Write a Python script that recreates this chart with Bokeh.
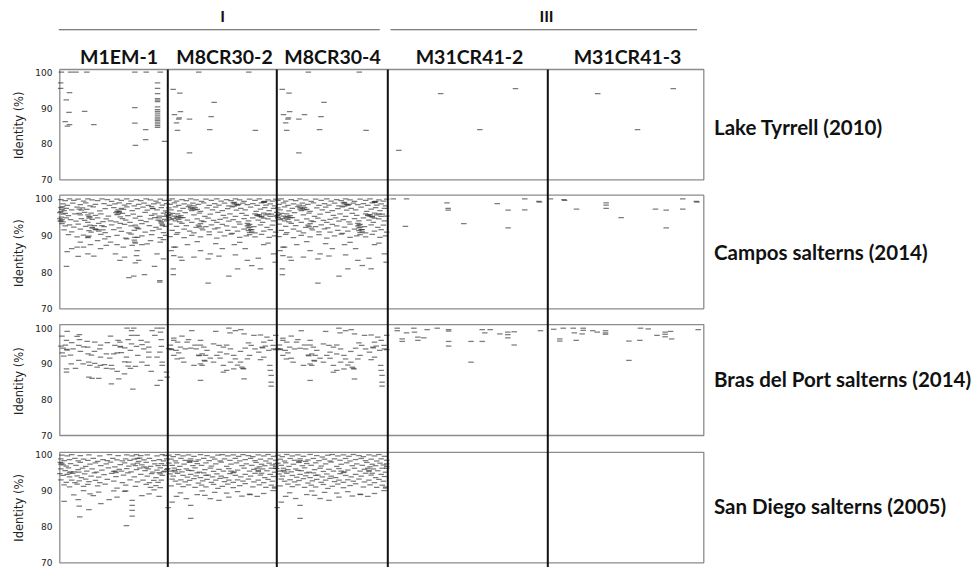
import math
from bokeh.plotting import figure
from bokeh.models import Range1d
from bokeh.embed import file_html
from bokeh.resources import INLINE
from bokeh.core.properties import value

# ---------------- data ----------------
genomes = ["M1EM-1", "M8CR30-2", "M8CR30-4", "M31CR41-2", "M31CR41-3"]
groups = ["I", "III"]
group_members = [[0, 1, 2], [3, 4]]
metagenomes = ["Lake Tyrrell (2010)", "Campos salterns (2014)",
               "Bras del Port salterns (2014)", "San Diego salterns (2005)"]
identity_ticks = [70, 80, 90, 100]
identity_tick_labels = ["70", "80", "90", "100"]
y_label = "Identity (%)"

# each point: (position along genome, % of genome length ; identity %)
lake_M1EM1 = [(1.5,100),(10,100),(15,100),(25,100),(69.5,100),(80,100),(93,100),
    (0.8,97.0),(0.8,95.5),(9,94.3),(6,92.3),(8.5,88.8),(5,86.2),(7,85.0),(9,85.4),(23,89.1),
    (31.5,85.4),(69.5,90.1),(69.5,85.8),(79.5,84.0),(79.5,81.2),(70,79.6),(97,80.7),
    (90.5,97.0),(90.5,95.5),(90.5,94.0),(90.5,92.6),(90.5,92.2),(90.5,91.8),(90.5,90.3),
    (90.5,89.6),(90.5,89.1),(90.5,88.6),(90.5,88.0),(90.5,87.5),(90.5,87.0),(90.5,86.6),
    (90.5,86.1),(90.5,85.6),(90.5,85.1),(90.5,84.6)]
lake_M8CR30 = [(28.4,100),(74.3,100),(4.9,95.2),(11,94.2),(6.1,88.2),(11.6,89.0),(10,86.9),
    (8,85.9),(8.9,83.8),(19.9,86.9),(42.5,91.6),(39.8,87.6),(38.5,84.0),(19.9,77.5),(80.4,83.8),
    (10.5,87.3)]
lake_M8CR30_4_extra = [(25,88.2)]
lake_M31CR41_2 = [(33,94.0),(79.8,95.4),(57.5,84.0),(6.9,78.2)]
lake_M31CR41_3 = [(32,94.0),(80.4,95.4),(57.5,84.0)]

campos_M1EM1 = [
    (1,99.8),(5,99.5),(9,100),(13,99.6),(17,99.9),(22,99.4),(26,100),(30,99.7),(35,99.5),(39,100),
    (44,99.8),(48,99.3),(53,99.9),(57,99.6),(62,100),(66,99.4),(71,99.8),(75,99.5),(80,100),(84,99.7),
    (89,99.4),(93,99.9),(97,99.6),
    (3,98.6),(7,98.2),(12,98.8),(19,98.4),(24,98.9),(28,98.1),(33,98.5),(41,98.7),(46,98.2),(51,98.6),
    (55,98.9),(60,98.3),(64,98.7),(69,98.1),(73,98.5),(78,98.8),(82,98.2),(87,98.6),(91,98.9),(95,98.3),
    (99,98.7),
    (1,97.6),(2,97.1),(4,96.8),(6,97.4),(11,97.0),(16,97.7),(18,97.2),(20,96.9),(21,97.5),(25,97.1),
    (31,97.8),(37,96.7),(42,97.3),(50,97.6),(54,97.0),(55,96.6),(57,97.4),(59,97.1),(62,97.8),(67,96.8),
    (72,97.3),(77,97.7),(81,96.9),(86,97.4),(90,97.0),(94,97.6),(98,96.7),
    (0,96.2),(3,95.8),(5,96.0),(8,95.4),(14,95.9),(23,96.3),(26,95.6),(27,95.2),(29,96.1),(33,95.5),
    (38,95.9),(45,95.3),(52,96.2),(53,95.7),(56,95.1),(58,96.0),(63,95.4),(68,95.8),(74,95.2),(79,96.3),
    (85,95.5),(88,95.9),(92,95.3),(96,96.1),(99,95.6),
    (0,94.6),(1,94.0),(3,93.7),(6,94.8),(10,94.3),(15,93.9),(20,94.6),(23,94.1),(26,93.6),(30,94.4),
    (35,94.8),(40,93.8),(43,94.5),(47,94.0),(52,93.7),(58,94.6),(61,94.2),(65,93.6),(70,94.7),(75,94.1),
    (80,93.8),(84,94.5),(88,94.9),(91,94.2),(94,93.7),(97,94.4),
    (2,93.2),(5,92.6),(9,92.9),(13,92.3),(17,93.1),(24,92.5),(28,92.8),(30,92.2),(32,92.7),(36,93.3),
    (41,92.4),(48,92.9),(55,92.1),(60,93.0),(66,92.6),(71,92.3),(76,93.2),(83,92.7),(89,92.2),(95,93.0),
    (98,92.5),
    (4,91.5),(11,91.0),(19,91.7),(27,91.3),(29,90.9),(33,91.6),(36,91.2),(42,90.8),(50,91.6),(57,91.1),
    (64,90.7),(69,91.4),(73,91.8),(79,90.9),(86,91.3),(92,91.7),(96,90.8),
    (8,90.2),(16,89.6),(22,90.1),(26,89.4),(27,89.8),(38,90.3),(45,89.7),(53,90.0),(61,89.3),(66,90.4),
    (72,89.5),(76,89.9),(85,90.2),(93,89.4),(98,90.0),
    (6.2,81.6),(6.8,85.6),(17,84.3),(16,86.8),(26,85.0),(31.5,84.4),(37.7,86.4),(43,87.3),(47,88.2),
    (51.5,85.0),(55.6,83.2),(60,84.1),(64,78.5),(68.5,78.9),(70,82.5),(71,84.5),(73,83.2),(78.4,79.3),
    (71.6,85.9),(67,87.3),(69.4,88.2),(87.7,81.6),(92.6,77.3),(92.6,77.7),(90,85.0),(96,83.6),(96,88.9),
    (80.9,87.7),(76,87.5),(58.8,86.8),(53,87.5),(28.4,87.5),(22,86.8),(11,86.4),(19,88.2),(35,88.6),
    (41.7,89.1),(62,89.1),(84,88.6),(93,88.2),
    (1,96.5),(1.5,95.0),(2,94.3),(0.5,93.9),(2.5,97.9),(18,96.0),(19,95.6),(27,94.7),(28,95.0),
    (33,91.8),(35,91.6),(30,92.0),(40,91.5),(53,96.6),(55,96.3),(54,95.9),(56,93.3),(70,92.8),(72,92.0),
    (69,88.7),(70,87.9),(69.5,89.5),(85,97.9),(86,97.3),(92,94.8),(93,94.0),(94,93.4),(95,92.7),
    (97,95.2),(99,94.0),(26,89.6),(39,92.7)]

campos_M8CR30 = [
    (1,99.6),(4,100),(8,99.4),(13,99.8),(17,99.5),(21,100),(26,99.7),(31,99.3),(35,99.9),(40,99.6),
    (45,100),(49,99.4),(54,99.8),(58,99.5),(62,100),(66,99.7),(70,99.3),(75,99.9),(80,99.6),(84,100),
    (88,99.2),(88.5,99.0),(92,99.7),(96,99.4),(99,99.9),
    (2,98.5),(6,98.9),(10,98.2),(15,98.6),(20,98.3),(23,98.8),(24,98.1),(28,98.5),(33,98.9),(38,98.2),
    (43,98.7),(47,98.3),(52,98.8),(56,98.1),(61,98.6),(60,98.9),(64,98.2),(65,98.5),(69,98.8),(73,98.4),
    (78,98.7),(82,98.2),(86,98.9),(90,98.3),(94,98.6),(98,98.1),
    (1,97.5),(3,97.0),(7,97.8),(11,96.7),(14,97.4),(19,97.9),(21,97.2),(22,96.8),(25,97.6),(27,97.1),
    (30,96.6),(36,97.5),(41,97.0),(44,97.7),(50,96.8),(55,97.3),(59,97.8),(63,96.9),(67,97.4),(71,97.0),
    (76,97.7),(81,96.6),(85,97.2),(89,97.6),(93,96.8),(97,97.4),
    (0,96.3),(2,95.7),(4,96.0),(6,95.3),(9,95.9),(12,95.4),(16,96.2),(24,95.6),(29,96.1),(34,95.2),
    (39,95.8),(46,96.3),(51,95.5),(57,95.9),(62,95.2),(68,96.0),(72,95.5),(80,95.9),(82,95.4),(84,95.7),
    (86,95.2),(88,96.1),(90,95.6),(95,95.8),(99,95.3),
    (1,94.8),(3,94.3),(5,94.6),(7,94.0),(10,94.4),(11,93.7),(14,94.9),(18,94.2),(22,93.6),(27,94.5),
    (31,94.0),(33,93.8),(37,94.7),(42,94.1),(45,93.6),(48,94.4),(53,94.8),(56,93.9),(60,94.3),(65,93.7),
    (70,94.6),(74,94.0),(78,94.8),(83,94.2),(87,93.6),(92,94.5),(97,94.0),
    (2,93.1),(8,92.5),(13,93.3),(17,92.7),(26,92.2),(28,92.8),(30,93.2),(35,92.4),(40,92.9),(46,92.1),
    (50,93.0),(54,92.6),(61,92.3),(66,93.1),(73,92.6),(74,92.1),(75,93.0),(79,92.4),(85,92.9),(91,92.2),
    (96,92.8),
    (4,91.4),(9,90.8),(15,91.7),(20,91.2),(24,90.7),(32,91.5),(38,91.0),(43,91.8),(48,90.9),(55,91.4),
    (59,90.6),(64,91.2),(70,91.7),(74,91.3),(75,90.8),(77,91.6),(80,90.7),(88,91.2),(94,91.6),(99,90.9),
    (2,89.7),(8,90.3),(15,89.4),(22,90.0),(30,89.6),(38,90.2),(45,89.3),(52,89.9),(58,90.4),(66,89.5),
    (72,89.9),(75,90.2),(80,89.6),(86,90.3),(93,89.5),(98,89.9),
    (7,86.8),(3,85.9),(5.5,84.5),(11.6,84.1),(13,83.2),(5,80.9),(5,79.3),(24,84.1),(39,85.0),(37,83.6),
    (47,84.4),(37,77.0),(62,84.7),(64,80.9),(56,78.9),(73,83.2),(77,81.8),(83,83.8),(85,80.9),(97,85.0),
    (98.5,82.7),(30,85.9),(50,86.4),(71,86.4),(18,87.5),(61,87.5),(88,87.5),(5.5,86.8),(27,88.3),
    (44,87.8),(66,88.1),(92,87.9),
    (8,95.0),(9,94.7),(10,95.2),(12,94.9),(21,97.6),(23,97.3),(25,97.0),(61,99.0),(63,98.5),(61,98.0),
    (73,93.3),(74,92.8),(75,92.3),(76,91.6),(77,91.0),(82,95.6),(84,95.3),(86,95.0),(88,94.7),
    (88,99.1),(89,99.3),(92,95.9),(94,95.2),(29,92.5),(31,92.0),(0.5,95.5),(1,95.0)]
campos_M31CR41_2 = [(3.4,100),(11.7,100),(37,98.9),(37.7,97.4),(37.7,96.9),(68.4,98.7),(75.2,96.9),
    (85.6,100),(85.6,97.0),(94.4,99.3),(94.8,99.1),(11,92.5),(47.5,93.2),(75.2,92.1)]
campos_M31CR41_3 = [(1.7,100),(10.3,99.8),(10.8,99.6),(37.4,98.9),(37.4,98.3),(37.4,97.4),(18.4,97.2),
    (47,94.9),(69,97.2),(75.9,96.9),(86.5,100),(86.5,97.2),(95.2,99.3),(95.6,99.1),(75.9,92.1)]

bras_M1EM1 = [
    (6.8,99.1),(18.2,98.2),(6.2,96.6),(5.2,95.3),(6.8,93.9),(2.2,93.1),(3.7,92.2),(9.9,92.5),(12.3,94.2),
    (17.6,95.2),(18.2,96.8),(25.3,96.3),(25.9,94.7),(26.2,92.8),(19.1,93.5),(32.4,96.1),(37.7,95.3),
    (37,94.2),(32.1,93.5),(29.3,92.5),(26.9,90.5),(27.8,89.6),(32.4,90.2),(34.6,89.1),(37.7,89.6),
    (41.4,89.8),(43.2,88.8),(47.8,89.6),(37.7,91.9),(46.3,91.6),(43.2,92.8),(50,92.8),(53.1,93.1),
    (54,96.6),(55.6,96.1),(56.2,94.7),(60.2,94.5),(62.3,100),(66.4,99.3),(66.4,98.0),(71.6,98.0),
    (63.3,96.8),(66.4,95.6),(71,94.9),(65.4,93.8),(61.7,91.9),(63.9,90.5),(63.3,89.4),(65.4,88.8),
    (59.9,87.2),(53.1,87.9),(48.5,88.6),(67.6,83.0),(26.9,86.3),(29.9,86.0),(36.1,86.0),(47.8,84.4),
    (54.6,85.8),(84.6,87.9),(80.9,89.6),(82.4,91.9),(82.4,93.3),(80.9,96.1),(82.4,94.7),(76.2,95.4),
    (75.3,96.6),(88,98.0),(90.1,100),(94.8,100),(93.2,98.9),(93.8,96.8),(94.1,94.9),(92.6,93.3),
    (90.1,91.9),(94.8,89.6),(98.8,87.7),(99.4,86.3),(93.2,85.4),(90.1,84.0),(94.8,90.5),(6.2,88.6),
    (6.2,87.7),(14.5,88.8),(17.6,91.0),(21.6,90.0),(10.5,90.0),
    (2,97.8),(16,97.7),(68.5,100),(85.5,99.3),(77.8,94.2),(72.2,92.4),(76,90.5),(44,96.0),(47,97.8),
    (51,95.2),(57,93.2),(22,94.8),(11,96.0),(3,94.4),(1,95.0),(60,90.6),(70,89.3),(6.5,94.1),(56,94.9)]
bras_M8CR30 = [
    (22,99.3),(44,99.1),(56,100),(62,99.3),(67,99.6),(57,98.7),(70,98.4),(79,98.0),(85,98.1),(91,97.5),
    (94,96.6),(99,98.0),(5.5,96.6),(9,96.1),(2.4,95.3),(11.6,94.7),(3,94.2),(3.3,94.0),(7.6,93.8),
    (10,93.1),(5.5,92.4),(8.6,91.4),(16,94.2),(21,94.4),(19,96.8),(30,96.6),(30,95.3),(33,94.7),
    (36,93.8),(31.5,92.8),(28.4,92.5),(28.8,92.3),(34.6,92.4),(39,91.6),(33.6,91.0),(34,90.8),(42,90.5),
    (30,90.0),(31.5,89.6),(42,95.6),(47,95.2),(51,94.7),(54,95.3),(57.5,94.2),(48,93.3),(54,92.8),
    (60.5,92.4),(66.7,93.5),(71,94.4),(74,95.9),(76.5,95.2),(62,91.4),(57.5,90.5),(51,89.6),(54,88.2),
    (60.5,88.6),(64,89.7),(68,89.1),(69,88.8),(69.5,88.6),(73,91.4),(75,92.4),(66.7,90.5),(30,85.4),
    (51,87.7),(70,85.8),(80,94.2),(83.5,93.3),(86.5,94.7),(87,94.5),(89.6,95.0),(88,96.1),(92.7,93.8),
    (97,94.2),(96.6,95.2),(93.6,89.6),(94,88.2),(94.8,86.8),(94.8,84.9),(94.8,83.8),(85,91.2),(88,91.9),
    (5.5,97.2),(13,97.8),(17.7,96.1),(25,95.3),(13,91.6),(14.7,90.5),(24,89.6),(26,94.2),(45,92.4),
    (48,91.6),(1,94.3),(99,94.0)]
bras_M31CR41_2 = [(5.9,100),(5.9,99.3),(11.7,98.7),(16.3,100),(16.7,98.9),(24.6,99.6),(30.9,100),
    (9,97.0),(9,96.3),(18.8,97.5),(18.8,96.6),(22.5,97.3),(38,99.6),(38,99.2),(38,96.3),(38,95.0),
    (52,96.3),(52,90.5),(59,99.6),(64,99.6),(60.6,98.7),(59,96.3),(70,98.4),(75,98.9),(75,98.2),
    (75,97.3),(79,99.0),(79,95.3),(95.4,99.3)]
bras_M31CR41_3 = [(3.8,99.7),(9.9,100),(16.3,100),(22.7,100),(22.7,99.4),(17,98.7),(22,98.4),
    (28.8,99.3),(31.7,98.9),(37,99.3),(37,98.7),(37,98.3),(7.7,97.0),(7.7,96.4),(18.2,96.6),(52,96.4),
    (52,91.0),(59,96.6),(59.4,100),(64.4,99.8),(70,98.0),(75.2,98.9),(75.2,98.3),(75.2,97.6),(78.7,99.1),
    (79.4,97.0),(96.4,99.6)]

sandiego_M1EM1 = [
    (2,99.8),(7,99.6),(11,100),(19,99.7),(27,99.9),(37,99.6),(46,100),(54,99.7),(62,99.9),(67,99.6),
    (71,100),(75,99.7),(81,99.9),(90,99.6),(95,100),(98,99.7),
    (1,98.8),(4,98.3),(9,98.6),(14,98.9),(17,98.2),(22,98.7),(26,98.4),(31,98.9),(35,98.1),(40,98.6),
    (44,98.3),(49,98.9),(53,98.5),(58,98.2),(61,98.8),(65,98.4),(69,98.7),(73,98.1),(78,98.5),(83,98.9),
    (87,98.3),(92,98.6),(96,98.2),(99,98.8),
    (2,97.6),(3,97.1),(6,96.8),(10,97.5),(15,97.0),(19,97.8),(24,96.7),(28,97.3),(33,97.7),(38,96.9),
    (43,97.4),(47,97.9),(51,96.6),(56,97.2),(60,97.7),(64,96.8),(68,97.3),(70,96.9),(72,97.6),(76,97.1),
    (80,97.8),(84,96.7),(88,97.4),(91,96.9),(94,97.5),(97,97.0),
    (1,96.0),(5,95.5),(8,96.3),(13,95.2),(17,95.8),(21,96.2),(25,95.4),(30,96.0),(34,95.1),(39,95.7),
    (45,96.3),(50,95.3),(55,95.9),(57,95.4),(62,96.1),(66,95.2),(71,95.8),(74,96.2),(79,95.5),(82,96.0),
    (86,95.1),(90,95.7),(93,96.3),(97,95.4),(99,95.9),
    (0,94.7),(3,94.2),(7,94.5),(9,93.8),(12,94.8),(16,94.1),(20,93.6),(23,94.6),(29,94.0),(32,94.9),
    (36,93.7),(41,94.4),(48,94.8),(52,93.9),(59,94.3),(63,94.9),(69,93.8),(75,94.5),(81,94.0),(85,94.7),
    (89,93.6),(95,94.2),
    (1,93.0),(6,92.3),(11,92.9),(14,92.2),(18,92.7),(24,93.2),(27,92.5),(33,92.8),(37,92.2),(44,93.1),
    (50,92.6),(58,92.2),(65,93.0),(72,92.4),(77,92.9),(83,92.2),(87,92.8),(91,92.3),(94,92.9),
    (4,91.6),(9,91.0),(16,91.8),(22,91.2),(26,91.7),(35,91.3),(42,91.8),(53,90.7),(61,91.5),(70,91.2),
    (80,91.7),(84,90.9),(89,91.4),(93,90.8),
    (4,87.0),(18,85.7),(18.5,82.7),(27,84.7),(17,87.5),(28,89.1),(36,89.6),(45.7,87.5),(60,89.8),
    (61,89.9),(61.7,80.3),(67,87.3),(67,85.9),(67,84.5),(67,82.9),(82.7,89.1),(87.3,90.2),(91.9,88.4),
    (38,86.4),(13,88.8),(53,88.2),(76,88.6),(50,89.9),(31,88.6),(22,90.0),
    (9,94.9),(10,95.2),(17.6,95.1),(51.5,95.4),(52,95.0),(72,98.9),(74,99.0),(78,96.6),(80,96.3),
    (96,95.2),(92,95.0),(93,94.6),(0.5,97.8),(1,97.3)]
sandiego_M8CR30 = [
    (1,99.8),(5,99.4),(9,100),(14,99.6),(19,99.9),(24,99.5),(30,100),(36,99.7),(41,99.3),(46,99.8),
    (50,100),(55,99.6),(60,99.9),(65,99.5),(69,100),(74,99.7),(78,99.4),(83,99.9),(88,99.6),(92,100),
    (97,99.5),
    (3,98.7),(7,98.2),(12,98.9),(16,98.4),(21,98.8),(26,98.1),(28,98.5),(33,98.9),(38,98.3),(43,98.7),
    (48,98.2),(52,98.8),(57,98.4),(62,98.9),(66,98.2),(71,98.6),(76,98.9),(80,98.3),(85,98.7),(90,98.2),
    (94,98.8),(99,98.4),
    (1,97.6),(4,97.0),(8,97.7),(11,96.7),(15,97.3),(20,97.8),(23,96.9),(27,97.5),(31,97.0),(35,97.7),
    (40,96.8),(44,97.4),(49,97.9),(54,96.7),(58,97.3),(63,97.7),(68,96.9),(72,97.4),(77,97.0),(81,97.8),
    (84,96.6),(86,97.3),(89,96.9),(93,97.6),(96,97.1),(99,96.7),
    (0,96.1),(3,95.4),(6,96.2),(10,95.8),(13,95.2),(17,96.0),(22,95.5),(25,96.3),(29,95.1),(34,95.8),
    (39,96.2),(42,95.3),(47,95.9),(51,95.4),(56,96.1),(61,95.2),(64,95.7),(70,96.2),(75,95.4),(79,95.9),
    (83,95.3),(87,96.0),(91,95.5),(95,96.2),(98,95.1),
    (2,94.6),(5,94.0),(9,94.8),(14,94.2),(18,93.7),(21,94.5),(26,94.1),(30,93.6),(33,94.9),(37,94.3),
    (41,93.8),(45,94.6),(49,94.0),(53,93.6),(57,94.7),(62,94.2),(67,93.8),(71,94.5),(76,94.0),(80,94.8),
    (85,94.3),(89,93.6),(94,94.5),(97,93.9),
    (4,93.2),(7,92.6),(12,93.0),(16,92.4),(20,92.8),(24,93.3),(28,92.1),(32,92.7),(36,93.1),(40,92.3),
    (44,92.9),(48,93.4),(52,92.5),(56,92.9),(60,92.3),(64,93.0),(69,92.6),(74,93.2),(79,92.4),(83,92.9),
    (88,92.2),(92,93.1),(96,92.6),
    (3,91.3),(10,91.8),(14,91.1),(19,91.6),(25,90.9),(31,91.5),(35,91.0),(42,91.7),(46,90.6),(50,91.2),
    (55,91.8),(60,90.8),(66,91.4),(71,91.9),(78,91.0),(84,91.6),(90,90.9),(95,91.5),(98,91.0),
    (0.3,85.3),(21,85.9),(21,82.3),(4,86.8),(11.6,89.4),(31.5,89.9),(34,88.7),(39,87.8),(47,87.3),
    (54,89.3),(56,88.2),(75,89.0),(75.5,88.9),(82,88.4),(96.6,90.0),(98,90.7),(8,88.4),(17,87.8),
    (27,88.9),(43,89.5),(64,89.7),(68,88.5),(88,89.2),
    (20,98.0),(21,98.3),(6,95.6),(7,95.2),(19,95.6),(27,94.9),(35,94.2),(58,95.4),(60,95.0),(82,96.2),
    (83,95.6),(86,94.8),(99,97.4),(99,96.2)]

recruitment = {
    "Lake Tyrrell (2010)": [lake_M1EM1, lake_M8CR30, lake_M8CR30 + lake_M8CR30_4_extra,
                            lake_M31CR41_2, lake_M31CR41_3],
    "Campos salterns (2014)": [campos_M1EM1, campos_M8CR30, campos_M8CR30,
                               campos_M31CR41_2, campos_M31CR41_3],
    "Bras del Port salterns (2014)": [bras_M1EM1, bras_M8CR30, bras_M8CR30,
                                      bras_M31CR41_2, bras_M31CR41_3],
    "San Diego salterns (2005)": [sandiego_M1EM1, sandiego_M8CR30, sandiego_M8CR30, [], []],
}

# ---------------- layout (page pixel positions) ----------------
W, H = 973, 567
def py(page_y):
    return H - page_y

col_edges = [59.3, 167.3, 276.3, 387.3, 547.3, 703.3]
row_y70 = [179.3, 308.3, 435.0, 562.3]
row_y100 = [71.7, 198.3, 327.7, 454.0]
row_box_top = [100.75, 101.0, 101.0, 100.6]
row_label_mid = [126.8, 251.8, 378.5, 505.2]
col_label_x = [118.5, 224, 332, 469, 627]
col_label_mid = 56.3
group_label_x = [222, 546]
group_label_mid = 15.0
group_line = [(58.3, 379.3), (390.0, 696.5)]
group_line_y = 29.3

BOLD = value("Lato")
p = figure(width=W, height=H, x_range=Range1d(0, W), y_range=Range1d(0, H),
           x_axis_type=None, y_axis_type=None, output_backend="svg", toolbar_location=None,
           min_border=0, outline_line_color=None, background_fill_color="white",
           border_fill_color="white")
p.min_border_left = p.min_border_right = p.min_border_top = p.min_border_bottom = 0

# group headers
p.text(x=group_label_x, y=[py(group_label_mid)] * 2, text=groups, text_align="center",
       text_baseline="middle", text_font=BOLD, text_font_style="bold",
       text_font_size="16px", text_color="#111111")
p.segment(x0=[a for a, b in group_line], x1=[b for a, b in group_line],
          y0=[py(group_line_y)] * 2, y1=[py(group_line_y)] * 2, line_color="#555555", line_width=1.1)

# genome labels
p.text(x=col_label_x, y=[py(col_label_mid)] * len(genomes), text=genomes, text_align="center",
       text_baseline="middle", text_font=BOLD, text_font_style="bold",
       text_font_size="19.5px", text_color="#111111")

# metagenome labels
p.text(x=[713.5] * 4, y=[py(b) for b in row_label_mid], text=metagenomes, text_align="left",
       text_baseline="middle", text_font=BOLD, text_font_style="bold",
       text_font_size="20.5px", text_color="#111111")

for r, mg in enumerate(metagenomes):
    y_tgt = Range1d(py(row_y70[r]), py(row_y100[r]))
    # row frame
    rowsub = p.subplot(x_source=Range1d(0, 1), y_source=Range1d(70, 100),
                       x_target=Range1d(col_edges[0], col_edges[-1]), y_target=y_tgt)
    rowsub.quad(left=[0], right=[1], bottom=[70], top=[row_box_top[r]], fill_color=None,
                line_color="#8c8c8c", line_width=1.3)
    # tick labels and axis title (x in page px, y in identity)
    lab = p.subplot(x_source=Range1d(0, W), y_source=Range1d(70, 100),
                    x_target=Range1d(0, W), y_target=y_tgt)
    lab.text(x=[52] * len(identity_ticks), y=identity_ticks, text=identity_tick_labels,
             text_align="right", text_baseline="middle", text_font=value("DejaVu Sans"),
             text_font_size="9px", text_color="#222222")
    lab.text(x=[18], y=[85.2], text=[y_label], angle=math.pi / 2, text_align="center",
             text_baseline="middle", text_font=value("DejaVu Sans"), text_font_size="11.5px",
             text_color="#222222")
    # recruitment plots
    for c, g in enumerate(genomes):
        pts = recruitment[mg][c]
        if not pts:
            continue
        sub = p.subplot(x_source=Range1d(0, 100), y_source=Range1d(70, 100),
                        x_target=Range1d(col_edges[c], col_edges[c + 1]), y_target=y_tgt)
        xs = [a for a, b in pts]
        ys = [b for a, b in pts]
        sub.scatter(x=xs, y=ys, marker="dash", size=5.5, line_color="#2a2a2a",
                    line_alpha=0.62, line_width=1.25)

# black genome separators, running through all rows
top_sep = row_y70[0] - (row_box_top[0] - 70) * (row_y70[0] - row_y100[0]) / 30.0
p.segment(x0=col_edges[1:-1], x1=col_edges[1:-1], y0=[py(top_sep)] * 4, y1=[0] * 4,
          line_color="#111111", line_width=2)

open("out.html", "w").write(file_html(p, INLINE))
